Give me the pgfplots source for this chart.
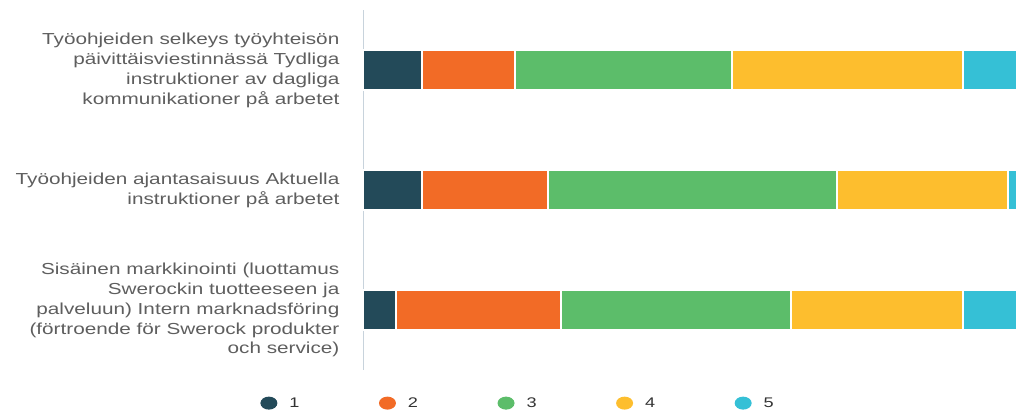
\documentclass[border=0pt]{standalone}
\usepackage{fontspec}
\setmainfont[FakeStretch=1.3]{Liberation Sans}
\usepackage{pgfplots}
\pgfplotsset{compat=1.18}
\definecolor{c1}{HTML}{234A59}
\definecolor{c2}{HTML}{F26B26}
\definecolor{c3}{HTML}{5CBD6A}
\definecolor{c4}{HTML}{FDBE2E}
\definecolor{c5}{HTML}{35C0D6}
\definecolor{axisc}{HTML}{C8D3DC}
\definecolor{labelc}{HTML}{5E5E5E}
\definecolor{legc}{HTML}{333333}
\pgfplotsset{dotlegend/.style={legend image code/.code={\fill[##1, draw=none] (8.5bp,0bp) ellipse (8.5bp and 6.5bp);}}}
\begin{document}
\begin{tikzpicture}
\useasboundingbox (0,0) rectangle (1016bp,412bp);
\begin{axis}[
  at={(363bp,42bp)}, anchor=south west,
  scale only axis, width=653bp, height=360bp,
  xbar stacked, bar width=40bp,
  xmin=0, xmax=653, ymin=-0.5, ymax=2.5, y dir=reverse,
  axis x line=none, axis y line=left,
  y axis line style={-, draw=axisc, line width=1bp},
  ytick={0,1,2}, ytick style={draw=none},
  yticklabels={{Työohjeiden selkeys työyhteisön\\päivittäisviestinnässä Tydliga\\instruktioner av dagliga\\kommunikationer på arbetet},
               {Työohjeiden ajantasaisuus Aktuella\\instruktioner på arbetet},
               {Sisäinen markkinointi (luottamus\\Swerockin tuotteeseen ja\\palveluun) Intern marknadsföring\\(förtroende för Swerock produkter\\och service)}},
  yticklabel style={align=right, font=\fontsize{16}{20}\selectfont, text=labelc, xshift=-18bp},
  every axis plot/.append style={draw=white, line width=1.5bp},
  legend columns=5,
  legend style={draw=none, fill=none, at={(-0.162,-0.092)}, anchor=west,
    font=\fontsize{14}{16}\selectfont, text=legc,
    /tikz/every odd column/.append style={column sep=10bp},
    /tikz/every even column/.append style={column sep=77.5bp}},
]
\addplot[fill=c1, dotlegend] coordinates {(59,0) (59,1) (33,2)};
\addplot[fill=c2, dotlegend] coordinates {(93,0) (126,1) (165,2)};
\addplot[fill=c3, dotlegend] coordinates {(217,0) (289,1) (230,2)};
\addplot[fill=c4, dotlegend] coordinates {(231,0) (171,1) (172,2)};
\addplot[fill=c5, dotlegend] coordinates {(100,0) (60,1) (100,2)};
\legend{1,2,3,4,5}
\end{axis}
\end{tikzpicture}
\end{document}
